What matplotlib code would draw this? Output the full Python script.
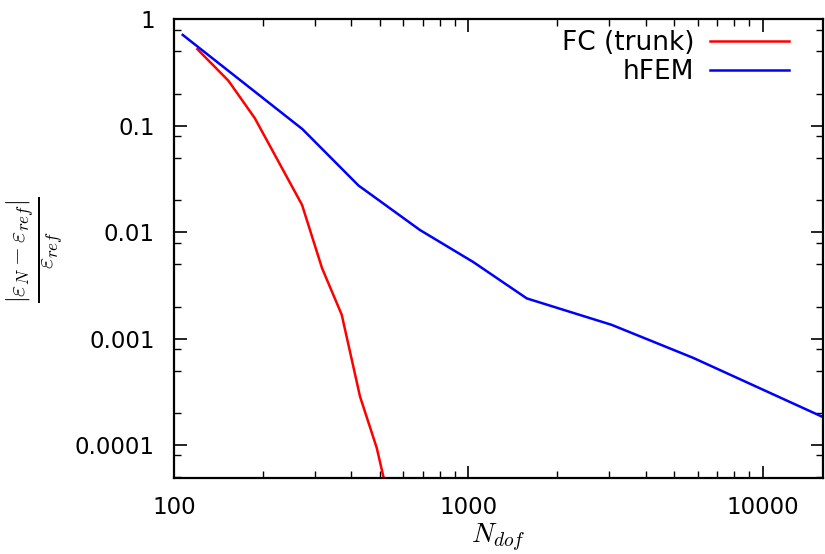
import numpy as np
import matplotlib
matplotlib.use('Agg')
import matplotlib.pyplot as plt
from matplotlib.ticker import LogLocator, NullFormatter

plt.rcParams['font.family'] = ['DejaVu Sans']
plt.rcParams['mathtext.fontset'] = 'cm'

# FC (trunk)
fc_ndof = [120, 153, 188, 272, 318, 371, 428, 488, 530]
fc_err = [0.525, 0.265, 0.118, 0.0181, 0.00461, 0.00168, 0.000287, 9.4e-5, 3.5e-5]

# hFEM
hfem_ndof = [107, 273, 423, 684, 1038, 1578, 3062, 5800, 15960]
hfem_err = [0.715, 0.093, 0.0275, 0.0105, 0.00525, 0.00239, 0.00135, 0.00066, 0.000184]

y_ticks = [1e-4, 1e-3, 1e-2, 1e-1, 1]
y_labels = ['0.0001', '0.001', '0.01', '0.1', '1']
x_ticks = [100, 1000, 10000]
x_labels = ['100', '1000', '10000']

fig = plt.figure(figsize=(8.25, 5.54), dpi=100)
ax = fig.add_axes([0.211, 0.137, 0.7866, 0.828])

ax.plot(fc_ndof, fc_err, color='#ff0000', lw=1.8, label='FC (trunk)')
ax.plot(hfem_ndof, hfem_err, color='#0000ff', lw=1.8, label='hFEM')

ax.set_xscale('log')
ax.set_yscale('log')
ax.set_xlim(100, 16000)
ax.set_ylim(4.9e-5, 1)

ax.set_xticks(x_ticks)
ax.set_xticklabels(x_labels)
ax.set_yticks(y_ticks)
ax.set_yticklabels(y_labels)
ax.xaxis.set_minor_locator(LogLocator(base=10, subs=np.arange(2, 10)))
ax.yaxis.set_minor_locator(LogLocator(base=10, subs=[2, 5, 8]))
ax.xaxis.set_minor_formatter(NullFormatter())
ax.yaxis.set_minor_formatter(NullFormatter())

ax.tick_params(which='both', direction='in', top=True, right=True, labelsize=16.5)
ax.tick_params(axis='y', pad=14)
ax.tick_params(axis='x', pad=13)
ax.tick_params(which='major', length=9, width=1.2)
ax.tick_params(which='minor', length=5, width=1.0)
for s in ax.spines.values():
    s.set_linewidth(1.6)

ax.set_xlabel(r'$N_{dof}$', fontsize=20, labelpad=2)
# y label as figure text so it sits where the reference has it
fig.text(35 / 825, 1 - 250 / 554,
         r'$\frac{|\varepsilon_N-\varepsilon_{ref}|}{\varepsilon_{ref}}$',
         fontsize=25, rotation=90, ha='center', va='center')

ax.legend(loc='upper right', frameon=False, fontsize=19, markerfirst=False,
          handlelength=3.0, handletextpad=0.6, labelspacing=0.12,
          borderaxespad=0.0, bbox_to_anchor=(0.964, 1.0))
for t in ax.get_legend().get_texts():
    t.set_ha('right')

fig.savefig('out.png', dpi=100)
